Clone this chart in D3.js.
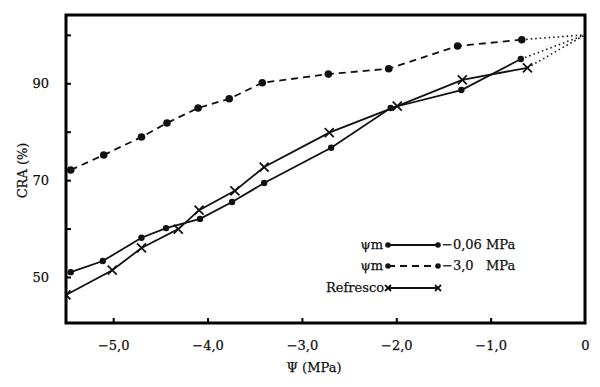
<!DOCTYPE html>
<html>
<head>
<meta charset="utf-8">
<script src="https://cdn.jsdelivr.net/npm/d3@7"></script>
<style>
	body { margin: 0; background: #fff; }
	svg { display: block; font-family: "DejaVu Serif", serif; }
	svg text { stroke: #111; stroke-width: 0.25px; }
</style>
</head>
<body>
<div id="chart"></div>
<script>
// values
const psiDry = [-5.45, -5.10, -4.70, -4.43, -4.10, -3.77, -3.42, -2.72, -2.08, -1.35, -0.67]
const craDry = [72.1, 75.2, 78.9, 81.8, 84.9, 86.8, 90.1, 91.9, 93.0, 97.7, 99.0]
const psiWet = [-5.45, -5.11, -4.70, -4.44, -4.08, -3.74, -3.40, -2.69, -2.06, -1.31, -0.68]
const craWet = [51.0, 53.3, 58.1, 60.1, 62.0, 65.5, 69.4, 76.7, 84.9, 88.6, 95.0]
const psiRef = [-5.50, -5.01, -4.70, -4.31, -4.09, -3.71, -3.40, -2.71, -1.99, -1.30, -0.61]
const craRef = [46.3, 51.4, 56.0, 59.9, 63.8, 67.8, 72.7, 79.8, 85.3, 90.7, 93.2]
const fullTurgor = [0, 100] // dotted extrapolation point

const xTicks = [-5, -4, -3, -2, -1, 0]
const xTickLabels = ['−5,0', '−4,0', '−3,0', '−2,0', '−1,0', '0']
const yTicks = [50, 60, 70, 80, 90, 100]
const yTickLabels = ['50', '', '70', '', '90', '']

const legendLabels = ['\u03c8m', '\u03c8m', 'Refresco']
const legendValues = ['−0,06 MPa', '−3,0\u00a0\u00a0 MPa', '']

const width = 600
const height = 387
const margin = { top: 15, right: 15, bottom: 64, left: 66 }

const x = d3.scaleLinear().domain([-5.5, 0]).range([margin.left, width - margin.right])
const y = d3.scaleLinear().domain([40.5, 104.1]).range([height - margin.bottom, margin.top])

const svg = d3.select('#chart').append('svg')
	.attr('width', width)
	.attr('height', height)

svg.append('clipPath').attr('id', 'plotclip')
	.append('rect')
	.attr('x', x(-5.5)).attr('y', y(104.1))
	.attr('width', x(0) - x(-5.5)).attr('height', y(40.5) - y(104.1))

const series = [
	{ xs: psiWet, ys: craWet, dash: null, marker: 'dot', r: 3.2 },
	{ xs: psiDry, ys: craDry, dash: '7,5', marker: 'dot', r: 3.8 },
	{ xs: psiRef, ys: craRef, dash: null, marker: 'cross', r: 4.5 },
]

const line = d3.line().x(d => x(d[0])).y(d => y(d[1]))
const plot = svg.append('g').attr('clip-path', 'url(#plotclip)')

series.forEach(s => {
	const pts = s.xs.map((v, i) => [v, s.ys[i]])
	// dotted extrapolation to full turgor
	plot.append('path')
		.attr('d', line([pts[pts.length - 1], fullTurgor]))
		.attr('fill', 'none').attr('stroke', '#111')
		.attr('stroke-width', 1.6).attr('stroke-dasharray', '1.5,3')
	plot.append('path')
		.attr('d', line(pts))
		.attr('fill', 'none').attr('stroke', '#111')
		.attr('stroke-width', 1.8)
		.attr('stroke-dasharray', s.dash)
	drawMarkers(plot, pts.map(p => [x(p[0]), y(p[1])]), s.marker, s.r)
})

function drawMarkers(g, pts, kind, r) {
	if (kind === 'dot') {
		g.selectAll(null).data(pts).enter().append('circle')
			.attr('cx', d => d[0]).attr('cy', d => d[1]).attr('r', r)
			.attr('fill', '#111')
	} else {
		g.selectAll(null).data(pts).enter().append('path')
			.attr('d', d => `M${d[0] - r},${d[1] - r}L${d[0] + r},${d[1] + r}M${d[0] - r},${d[1] + r}L${d[0] + r},${d[1] - r}`)
			.attr('stroke', '#111').attr('stroke-width', 1.8)
	}
}

// frame
svg.append('rect')
	.attr('x', x(-5.5)).attr('y', y(104.1))
	.attr('width', x(0) - x(-5.5)).attr('height', y(40.5) - y(104.1))
	.attr('fill', 'none').attr('stroke', '#000').attr('stroke-width', 3)

// axes with inward ticks
const xAxis = d3.axisBottom(x).tickValues(xTicks).tickSize(-5).tickPadding(18)
	.tickFormat((d, i) => xTickLabels[i])
const gx = svg.append('g').attr('transform', `translate(0,${y(40.5)})`).call(xAxis)
const yAxis = d3.axisLeft(y).tickValues(yTicks).tickSize(-5).tickPadding(17)
	.tickFormat((d, i) => yTickLabels[i])
const gy = svg.append('g').attr('transform', `translate(${x(-5.5)},0)`).call(yAxis)

;[gx, gy].forEach(g => {
	g.select('.domain').remove()
	g.selectAll('.tick line').attr('stroke', '#000').attr('stroke-width', 2)
	g.selectAll('.tick text').attr('font-family', '"DejaVu Serif", serif')
		.attr('font-size', 13).attr('fill', '#111')
})
gx.selectAll('.tick').filter(d => d === 0).select('line').remove()

// axis titles
svg.append('text')
	.attr('x', 314).attr('y', 372)
	.attr('text-anchor', 'middle').attr('font-size', 13).attr('fill', '#111')
	.text('\u03a8 (MPa)')
svg.append('text')
	.attr('transform', `translate(27,${y(72)}) rotate(-90)`)
	.attr('text-anchor', 'middle').attr('font-size', 13).attr('fill', '#111')
	.text('CRA (%)')

// legend
const legRows = [245, 266, 288]
const lx0 = 388, lx1 = 438
legendLabels.forEach((lab, i) => {
	const g = svg.append('g')
	const cy = legRows[i]
	g.append('text')
		.attr('x', i < 2 ? lx0 - 5 : lx0 - 4).attr('y', cy + 4)
		.attr('text-anchor', 'end').attr('font-size', 13).attr('fill', '#111')
		.text(lab)
	g.append('line')
		.attr('x1', lx0).attr('x2', lx1).attr('y1', cy).attr('y2', cy)
		.attr('stroke', '#111').attr('stroke-width', 1.8)
		.attr('stroke-dasharray', series[i].dash)
	drawMarkers(g, [[lx0, cy], [lx1, cy]], series[i].marker, series[i].marker === 'dot' ? 2.8 : 3)
	if (legendValues[i]) {
		g.append('text')
			.attr('x', lx1 + 4).attr('y', cy + 4)
			.attr('font-size', 13).attr('fill', '#111')
			.text(legendValues[i])
	}
})
</script>
</body>
</html>
